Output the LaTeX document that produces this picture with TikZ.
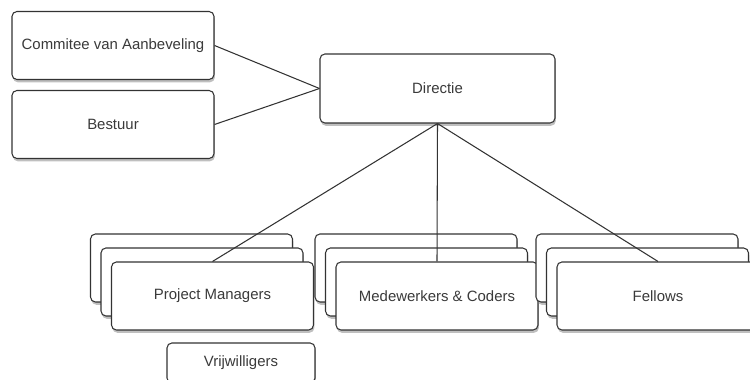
\documentclass[tikz,border=0pt]{standalone}
\usepackage{fontspec}
\setmainfont{Liberation Sans}
\usetikzlibrary{shadows}
\definecolor{edge}{HTML}{333333}
\definecolor{label}{HTML}{3A3A3A}
\tikzset{
  box/.style={draw=edge, fill=white, rounded corners=2.8pt, line width=0.6pt,
    minimum width=4.04cm, minimum height=1.36cm, text=label,
    font=\fontsize{8.5}{10}\selectfont,
    drop shadow={shadow xshift=0.5pt, shadow yshift=-1.6pt, opacity=0.5}},
  smallbox/.style={box, minimum width=2.96cm, minimum height=0.8cm},
  link/.style={draw=edge, line width=0.6pt},
}
\begin{document}
\begin{tikzpicture}
  \useasboundingbox (0,0) rectangle (15,-7.6);

  \node[box] (C) at (2.26,-0.91) {Commitee van Aanbeveling};
  \node[box] (B) at (2.26,-2.49) {Bestuur};
  \node[box, minimum width=4.7cm, minimum height=1.38cm] (D) at (8.75,-1.77) {Directie};

  % stacked boxes, back to front
  \foreach \n/\x/\t in {PM/4.25/Project Managers, MC/8.74/Medewerkers \& Coders, F/13.16/Fellows} {
    \node[box] (\n3) at (\x-0.42,-5.36) {};
    \node[box] (\n2) at (\x-0.21,-5.64) {};
    \node[box] (\n) at (\x,-5.92) {\t};
  }

  \node[smallbox] (V) at (4.82,-7.26) {Vrijwilligers};

  \draw[link] (C.east) -- (D.west);
  \draw[link] (B.east) -- (D.west);
  \draw[link] (D.south) -- (PM.north);
  \draw[link] (D.south) -- (MC.north);
  \draw[link] (D.south) -- (F.north);
\end{tikzpicture}
\end{document}
